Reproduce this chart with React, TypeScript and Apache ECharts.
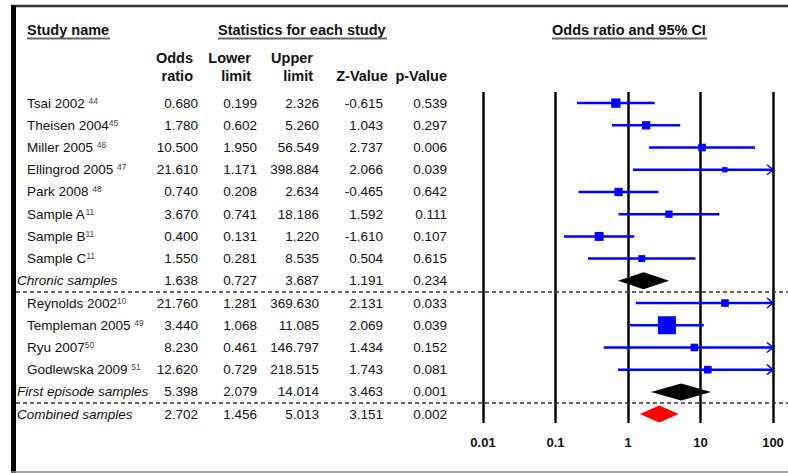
import React, { useEffect, useRef } from 'react';
import * as echarts from 'echarts';

// ---------- data ----------
const studyNames = [
  'Tsai 2002', 'Theisen 2004', 'Miller 2005', 'Ellingrod 2005', 'Park 2008',
  'Sample A', 'Sample B', 'Sample C', 'Chronic samples',
  'Reynolds 2002', 'Templeman 2005', 'Ryu 2007', 'Godlewska 2009', 'First episode samples',
  'Combined samples',
];
// reference numbers (leading space = separated by a space)
const refs = [' 44', '45', ' 46', ' 47', ' 48', '11', '11', '11', '', '10', ' 49', '50', ' 51', '', ''];
const rowKind = [
  'study', 'study', 'study', 'study', 'study', 'study', 'study', 'study', 'subtotal',
  'study', 'study', 'study', 'study', 'subtotal',
  'total',
];
const oddsRatio = [0.680, 1.780, 10.500, 21.610, 0.740, 3.670, 0.400, 1.550, 1.638, 21.760, 3.440, 8.230, 12.620, 5.398, 2.702];
const lowerLimit = [0.199, 0.602, 1.950, 1.171, 0.208, 0.741, 0.131, 0.281, 0.727, 1.281, 1.068, 0.461, 0.729, 2.079, 1.456];
const upperLimit = [2.326, 5.260, 56.549, 398.884, 2.634, 18.186, 1.220, 8.535, 3.687, 369.630, 11.085, 146.797, 218.515, 14.014, 5.013];
const zValue = [-0.615, 1.043, 2.737, 2.066, -0.465, 1.592, -1.610, 0.504, 1.191, 2.131, 2.069, 1.434, 1.743, 3.463, 3.151];
const pValue = [0.539, 0.297, 0.006, 0.039, 0.642, 0.111, 0.107, 0.615, 0.234, 0.033, 0.039, 0.152, 0.081, 0.001, 0.002];
// relative study weights (square area)
const weights = [86, 69, 58, 28, 69, 53, 81, 49, 0, 58, 324, 58, 58, 0, 0];
const tickLabels = ['0.01', '0.1', '1', '10', '100'];
const columnHeaderTop = ['Odds', 'Lower', 'Upper', '', ''];
const columnHeaderBottom = ['ratio', 'limit', 'limit', 'Z-Value', 'p-Value'];
const titles = ['Study name', 'Statistics for each study', 'Odds ratio and 95% CI'];

// ---------- layout / style ----------
const FONT = '"Liberation Sans", Arial, Helvetica, sans-serif';
const TEXT = '#111111';
const BLUE = '#0000ff';
const numRight = [198, 257, 319, 383, 447];
const headX = [193, 251, 313, 362, 447];
const headAlign = ['right', 'right', 'right', 'center', 'right'];
const titleX = [27, 218, 552];
const titleEnd = [110, 387, 707];
const X_MIN = 0.01;
const X_MAX = 100;

export default function App() {
  const ref = useRef<HTMLDivElement>(null);

  useEffect(() => {
    const chart = echarts.init(ref.current!, null, { renderer: 'svg' });
    const n = studyNames.length;
    const columns = [oddsRatio, lowerLimit, upperLimit, zValue, pValue];

    const graphic: any[] = [];
    // borders
    graphic.push({ type: 'line', shape: { x1: 11, y1: 6, x2: 788, y2: 6 }, style: { stroke: '#333', lineWidth: 2.5 } });
    graphic.push({ type: 'rect', shape: { x: 11, y: 5, width: 5, height: 468 }, style: { fill: '#000' } });
    graphic.push({ type: 'line', shape: { x1: 11, y1: 472, x2: 788, y2: 472 }, style: { stroke: '#888', lineWidth: 1.5 } });
    // titles
    titles.forEach((t, k) => {
      graphic.push({
        type: 'text', x: titleX[k], y: 30,
        style: { text: t, fill: TEXT, fontSize: 14.5, fontWeight: 'bold', fontFamily: FONT, align: 'left', verticalAlign: 'middle' },
      });
      graphic.push({ type: 'line', shape: { x1: titleX[k], y1: 38.5, x2: titleEnd[k], y2: 38.5 }, style: { stroke: '#666', lineWidth: 2 } });
    });
    // column headers
    for (let k = 0; k < 5; k++) {
      if (columnHeaderTop[k]) {
        graphic.push({
          type: 'text', x: headX[k], y: 58,
          style: { text: columnHeaderTop[k], fill: TEXT, fontSize: 14.5, fontWeight: 'bold', fontFamily: FONT, align: headAlign[k], verticalAlign: 'middle' },
        });
      }
      graphic.push({
        type: 'text', x: headX[k], y: 76,
        style: { text: columnHeaderBottom[k], fill: TEXT, fontSize: 14.5, fontWeight: 'bold', fontFamily: FONT, align: headAlign[k], verticalAlign: 'middle' },
      });
    }

    const renderItem = (params: any, api: any) => {
      const i = params.dataIndex;
      const y = api.coord([1, i])[1];
      const kind = rowKind[i];
      const isSum = kind !== 'study';
      const children: any[] = [];

      // name
      const r = refs[i];
      let txt = studyNames[i];
      if (r) {
        const sp = r.startsWith(' ');
        txt = txt + (sp ? ' ' : '') + '{s|' + r.trim() + '}';
      }
      children.push({
        type: 'text', x: isSum ? 17 : 27, y,
        style: {
          text: txt, fill: TEXT, fontSize: 13.5, fontFamily: FONT, fontStyle: isSum ? 'italic' : 'normal',
          align: 'left', verticalAlign: 'middle',
          rich: { s: { fontSize: 8.5, fontFamily: FONT, fill: '#444', verticalAlign: 'top' } },
        },
      });
      // numbers
      columns.forEach((col, k) => {
        children.push({
          type: 'text', x: numRight[k], y,
          style: { text: col[i].toFixed(3), fill: TEXT, fontSize: 13.5, fontFamily: FONT, align: 'right', verticalAlign: 'middle' },
        });
      });

      const xL = api.coord([Math.max(lowerLimit[i], X_MIN), i])[0];
      const xH = api.coord([Math.min(upperLimit[i], X_MAX), i])[0];
      const xO = api.coord([oddsRatio[i], i])[0];

      if (!isSum) {
        children.push({ type: 'line', shape: { x1: xL, y1: y, x2: xH, y2: y }, style: { stroke: BLUE, lineWidth: 2.5 } });
        if (upperLimit[i] > X_MAX) {
          children.push({ type: 'polyline', shape: { points: [[xH - 6, y - 5], [xH, y], [xH - 6, y + 5]] }, style: { stroke: BLUE, lineWidth: 1.5, fill: 'none' } });
        }
        const s = Math.sqrt(weights[i]);
        children.push({ type: 'rect', shape: { x: xO - s / 2, y: y - s / 2, width: s, height: s }, style: { fill: BLUE } });
      } else {
        const h = 8.5;
        children.push({
          type: 'polygon',
          shape: { points: [[xL, y], [xO, y - h], [xH, y], [xO, y + h]] },
          style: { fill: kind === 'total' ? '#ff0000' : '#000000' },
        });
        if (i < n - 1) {
          const yb = api.coord([1, i + 0.5])[1];
          children.push({
            type: 'line', shape: { x1: 16, y1: yb, x2: api.getWidth(), y2: yb },
            style: { stroke: '#333', lineWidth: 1.5, lineDash: [4, 3] },
          });
        }
      }
      return { type: 'group', children };
    };

    chart.setOption({
      animation: false,
      backgroundColor: '#ffffff',
      graphic,
      grid: { left: 483, right: 15, top: 92, bottom: 50, containLabel: false },
      xAxis: {
        type: 'log', logBase: 10, min: X_MIN, max: X_MAX,
        axisLine: { show: false }, axisTick: { show: false },
        splitLine: { show: true, lineStyle: { color: '#000', width: 2.5 } },
        axisLabel: {
          margin: 13, color: TEXT, fontSize: 13, fontWeight: 'bold', fontFamily: FONT,
          formatter: (v: number) => tickLabels.find((t) => Math.abs(Math.log10(+t) - Math.log10(v)) < 1e-6) ?? '',
        },
      },
      yAxis: { type: 'value', min: -0.5, max: 14.4, inverse: true, show: false, splitLine: { show: false } },
      series: [
        {
          type: 'custom',
          renderItem,
          clip: false,
          data: oddsRatio.map((v, i) => [v, i]),
          encode: { x: 0, y: 1 },
        },
      ],
    });
    return () => chart.dispose();
  }, []);

  return <div ref={ref} style={{ position: 'absolute', left: 0, top: 0, width: 788, height: 473 }} />;
}
